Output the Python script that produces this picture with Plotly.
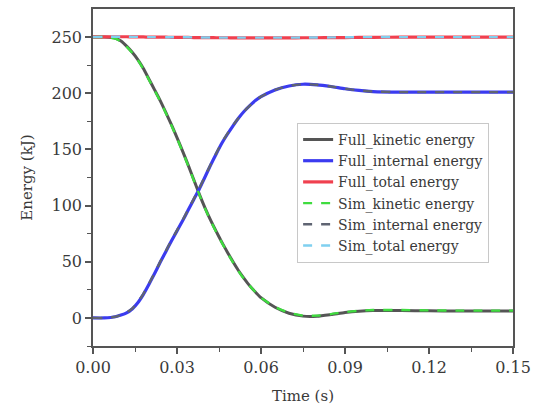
import plotly.graph_objects as go

# Time samples (s)
time_s = [0, 0.004, 0.008, 0.01, 0.012, 0.014, 0.016, 0.018, 0.02, 0.022,
          0.024, 0.026, 0.028, 0.03, 0.032, 0.034, 0.036, 0.038, 0.04, 0.042,
          0.044, 0.046, 0.048, 0.05, 0.052, 0.054, 0.056, 0.058, 0.06, 0.065,
          0.07, 0.075, 0.08, 0.085, 0.09, 0.095, 0.1, 0.11, 0.12, 0.13,
          0.14, 0.15]

# Full model energies (kJ)
full_kinetic = [250, 250, 249, 246.5, 242, 236.5, 230, 222, 212.5, 203,
                193.5, 183, 172, 160.5, 148.5, 136, 123, 110, 98, 87,
                77, 67.5, 58.5, 50, 42, 35, 28.5, 23, 18, 9.5,
                4.2, 1.6, 1.5, 3, 4.8, 6, 6.6, 6.6, 6.3, 6.2,
                6.2, 6.2]
full_internal = [0, 0, 1, 2.5, 4.5, 8, 13.5, 21, 30, 39.5,
                 49.5, 59, 68.5, 77.5, 86.5, 96, 105.5, 115, 125.5, 136,
                 146, 155.5, 163.5, 171, 178, 184, 189, 193.5, 197, 203,
                 206.5, 208, 207.5, 206, 204, 202.5, 201.5, 201, 201, 201,
                 201, 201]
full_total = [250, 250.2, 250.3, 250.3, 250.3, 250.2, 250.2, 250.1, 250, 250,
              249.9, 249.9, 249.8, 249.8, 249.7, 249.7, 249.6, 249.6, 249.5, 249.5,
              249.4, 249.4, 249.4, 249.3, 249.3, 249.3, 249.3, 249.3, 249.3, 249.3,
              249.3, 249.4, 249.4, 249.5, 249.6, 249.7, 249.8, 249.9, 250, 250,
              250, 250]

# Simplified model energies (kJ)
sim_kinetic = [250, 250, 248.6, 246, 241.5, 236, 229.5, 221.5, 212, 202.5,
               193, 182.5, 171.5, 160, 148, 135.5, 122.5, 109.5, 97.5, 86.5,
               76.5, 67, 58, 49.5, 41.5, 34.5, 28.5, 23, 18, 9.8,
               4.6, 2, 2, 3.4, 5.2, 6.4, 7, 7, 6.7, 6.5,
               6.5, 6.5]
sim_internal = [0, 0, 1, 2.7, 4.8, 8.3, 14, 21.5, 30.5, 40,
                50, 59.5, 69, 78, 87, 96.5, 106, 115.5, 126, 136.5,
                146.5, 156, 164, 171.5, 178, 184, 189, 193.5, 197, 203,
                206.5, 208, 207.5, 206, 204, 202.5, 201.5, 201, 201, 201,
                201, 201]
sim_total = [250, 250.2, 250.3, 250.3, 250.3, 250.2, 250.2, 250.1, 250, 250,
             250, 249.9, 249.9, 249.8, 249.8, 249.8, 249.7, 249.7, 249.6, 249.6,
             249.6, 249.5, 249.5, 249.5, 249.5, 249.5, 249.5, 249.5, 249.5, 249.5,
             249.5, 249.6, 249.6, 249.7, 249.8, 249.9, 250, 250, 250, 250,
             250, 250]

series = [
    ("Full_kinetic energy", full_kinetic, "#555555", "solid", 3),
    ("Full_internal energy", full_internal, "#3b3bf0", "solid", 3.2),
    ("Full_total energy", full_total, "#f0404f", "solid", 3.2),
    ("Sim_kinetic energy", sim_kinetic, "#3fdc3f", "dash", 2.4),
    ("Sim_internal energy", sim_internal, "#5f6472", "dash", 2.4),
    ("Sim_total energy", sim_total, "#7fd0f0", "dash", 2.4),
]

fig = go.Figure()
for name, vals, color, dash, width in series:
    fig.add_trace(go.Scatter(
        x=time_s, y=vals, name=name, mode="lines",
        line=dict(color=color, dash=dash, width=width, shape="spline", smoothing=0.6),
    ))

serif = "DejaVu Serif, serif"
tick_font = dict(family=serif, size=16, color="#3a3a3a")
title_font = dict(family=serif, size=15, color="#3a3a3a")

fig.update_layout(
    width=539, height=411,
    margin=dict(l=93, r=26, t=9, b=65),
    paper_bgcolor="white", plot_bgcolor="white",
    font=tick_font,
    showlegend=True,
    legend=dict(
        x=0.486, y=0.662, xanchor="left", yanchor="top",
        bordercolor="#c8c8c8", borderwidth=1, bgcolor="white",
        font=dict(family=serif, size=14, color="#3a3a3a"),
        itemwidth=30, tracegroupgap=0,
    ),
)

fig.update_xaxes(
    range=[0, 0.15], tickvals=[0, 0.03, 0.06, 0.09, 0.12, 0.15], tickformat=".2f",
    tickfont=tick_font, automargin=False,
    showline=True, linecolor="#555555", linewidth=1.5, mirror=True,
    ticks="outside", ticklen=6, tickwidth=1.5, tickcolor="#555555",
    minor=dict(tickvals=[0.015, 0.045, 0.075, 0.105, 0.135], ticks="outside",
               ticklen=4, tickwidth=1.2, tickcolor="#555555"),
    showgrid=False, zeroline=False,
    title=dict(text="Time (s)", font=title_font),
)
fig.update_yaxes(
    range=[-25, 275], tickvals=[0, 50, 100, 150, 200, 250],
    tickfont=tick_font, automargin=False,
    showline=True, linecolor="#555555", linewidth=1.5, mirror=True,
    ticks="outside", ticklen=6, tickwidth=1.5, tickcolor="#555555",
    minor=dict(tickvals=[-25, 25, 75, 125, 175, 225], ticks="outside",
               ticklen=4, tickwidth=1.2, tickcolor="#555555"),
    showgrid=False, zeroline=False,
    title=dict(text="Energy (kJ)", font=title_font),
)

fig.write_html("out.html")
